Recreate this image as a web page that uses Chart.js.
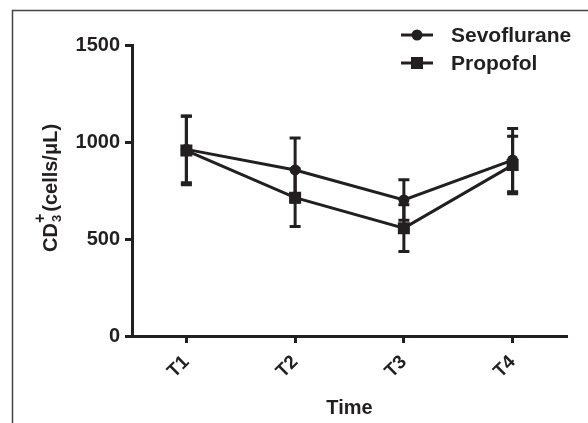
<!DOCTYPE html>
<html>
<head>
<meta charset="utf-8">
<script src="https://cdn.jsdelivr.net/npm/chart.js@4/dist/chart.umd.min.js"></script>
<style>
  body { margin: 0; background: #fff; }
</style>
</head>
<body>
<canvas id="cd3-chart" width="588" height="423"></canvas>
<script>
/* =================================
  data
==================================== */
const timeLabels = ['T1', 'T2', 'T3', 'T4'];
const yTicks = [0, 500, 1000, 1500];
const sevoMean = [962, 856, 701, 907];
const sevoSD = [172, 165, 104, 163];
const propMean = [956, 713, 556, 881];
const propSD = [177, 148, 121, 148];

const ink = '#231f20';
const font = 'Liberation Sans, Arial, sans-serif';

/* =================================
  plugins
==================================== */
// frame round the figure (top and left only)
const framePlugin = {
    id: 'frame',
    beforeDraw(chart) {
        const ctx = chart.ctx;
        ctx.save();
        ctx.strokeStyle = '#444';
        ctx.lineWidth = 1.5;
        ctx.beginPath();
        ctx.moveTo(12.5, chart.height);
        ctx.lineTo(12.5, 10.5);
        ctx.lineTo(chart.width, 10.5);
        ctx.stroke();
        ctx.restore();
    }
};

// error bars (mean +/- SD)
const errorBarPlugin = {
    id: 'errorBars',
    beforeDatasetsDraw(chart) {
        const ctx = chart.ctx;
        const x = chart.scales.x;
        const y = chart.scales.y;
        ctx.save();
        ctx.strokeStyle = ink;
        ctx.lineWidth = 3;
        chart.data.datasets.forEach((ds) => {
            ds.data.forEach((v, i) => {
                const px = x.getPixelForValue(i);
                const top = y.getPixelForValue(v + ds.sd[i]);
                const bot = y.getPixelForValue(v - ds.sd[i]);
                ctx.beginPath();
                ctx.moveTo(px, top);
                ctx.lineTo(px, bot);
                ctx.moveTo(px - 5.5, top);
                ctx.lineTo(px + 5.5, top);
                ctx.moveTo(px - 5.5, bot);
                ctx.lineTo(px + 5.5, bot);
                ctx.stroke();
            });
        });
        ctx.restore();
    }
};

// legend with line + marker, and the y title with sub/superscript
const labelsPlugin = {
    id: 'labels',
    afterDraw(chart) {
        const ctx = chart.ctx;
        ctx.save();
        chart.data.datasets.forEach((ds, i) => {
            const ly = 35 + i * 28;
            ctx.strokeStyle = ink;
            ctx.lineWidth = 3;
            ctx.beginPath();
            ctx.moveTo(401, ly);
            ctx.lineTo(433, ly);
            ctx.stroke();
            ctx.fillStyle = ink;
            Chart.helpers.drawPoint(ctx, {
                pointStyle: ds.pointStyle,
                radius: ds.pointRadius,
                borderWidth: 0
            }, 417, ly);
            ctx.font = 'bold 21px ' + font;
            ctx.textBaseline = 'middle';
            ctx.textAlign = 'left';
            ctx.fillText(ds.label, 451, ly + 1);
        });

        // y axis title: CD3+(cells/μL)
        ctx.translate(57, 252);
        ctx.rotate(-Math.PI / 2);
        ctx.fillStyle = ink;
        ctx.textBaseline = 'alphabetic';
        ctx.textAlign = 'left';
        ctx.font = 'bold 20px ' + font;
        let cx = 0;
        ctx.fillText('CD', cx, 0);
        cx += ctx.measureText('CD').width + 1;
        ctx.font = 'bold 13px ' + font;
        ctx.fillText('3', cx, 4);
        ctx.font = 'bold 16px ' + font;
        ctx.fillText('+', cx - 1, -12);
        cx += ctx.measureText('+').width + 1;
        ctx.font = 'bold 20px ' + font;
        ctx.fillText('(cells/\u03bcL)', cx, 0);
        ctx.restore();
    }
};

/* =================================
  chart
==================================== */
const cd3Data = {
    labels: timeLabels,
    datasets: [{
        label: 'Sevoflurane',
        data: sevoMean,
        sd: sevoSD,
        borderColor: ink,
        backgroundColor: ink,
        borderWidth: 3,
        pointStyle: 'circle',
        pointRadius: 5.5,
        pointBorderWidth: 0
    }, {
        label: 'Propofol',
        data: propMean,
        sd: propSD,
        borderColor: ink,
        backgroundColor: ink,
        borderWidth: 3,
        pointStyle: 'rect',
        pointRadius: 8.5,
        pointBorderWidth: 0
    }]
};

const cd3Options = {
    responsive: false,
    devicePixelRatio: 1,
    animation: false,
    layout: {
        padding: { left: 0, right: 21, top: 45, bottom: 0 }
    },
    scales: {
        x: {
            offset: true,
            grid: {
                offset: false,
                drawOnChartArea: false,
                tickLength: 7,
                tickWidth: 3,
                color: ink
            },
            border: { color: ink, width: 3 },
            ticks: {
                color: ink,
                font: { family: font, size: 19, weight: 'bold' },
                minRotation: 45,
                maxRotation: 45,
                padding: 8
            },
            title: {
                display: true,
                text: 'Time',
                color: ink,
                font: { family: font, size: 20, weight: 'bold' },
                padding: { top: 0, bottom: 3 }
            },
            afterFit(scale) { scale.height = 87; }
        },
        y: {
            min: 0,
            max: 1500,
            afterBuildTicks(scale) {
                scale.ticks = yTicks.map(v => ({ value: v }));
            },
            grid: {
                drawOnChartArea: false,
                tickLength: 7,
                tickWidth: 3,
                color: ink
            },
            border: { color: ink, width: 3 },
            ticks: {
                color: ink,
                font: { family: font, size: 20, weight: 'bold' },
                padding: 5,
                callback: (v) => String(v)
            },
            afterFit(scale) { scale.width = 132; }
        }
    },
    plugins: {
        legend: { display: false },
        tooltip: { enabled: false }
    }
};

const cd3Chart = new Chart(document.getElementById('cd3-chart'), {
    type: 'line',
    data: cd3Data,
    options: cd3Options,
    plugins: [framePlugin, errorBarPlugin, labelsPlugin]
});
</script>
</body>
</html>
